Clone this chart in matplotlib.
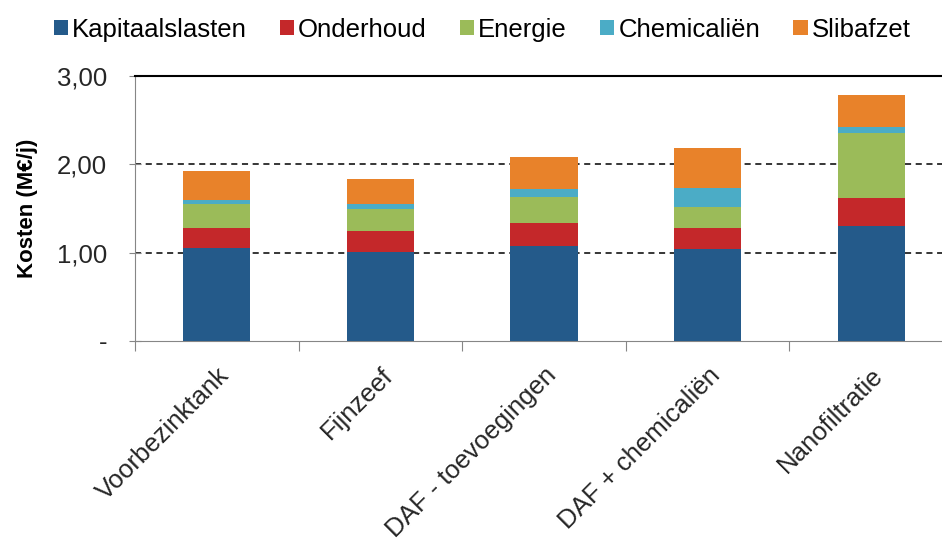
import matplotlib
matplotlib.use("Agg")
import matplotlib.pyplot as plt
import numpy as np

plt.rcParams['font.family'] = ['Liberation Sans', 'DejaVu Sans']

# Jaarlijkse kosten per zuiveringsoptie (M€/j)
categories = ["Voorbezinktank", "Fijnzeef", "DAF - toevoegingen",
              "DAF + chemicaliën", "Nanofiltratie"]
components = ["Kapitaalslasten", "Onderhoud", "Energie", "Chemicaliën", "Slibafzet"]
kapitaalslasten = [1.05, 1.01, 1.08, 1.04, 1.30]
onderhoud = [0.23, 0.23, 0.26, 0.24, 0.32]
energie = [0.27, 0.26, 0.29, 0.24, 0.74]
chemicalien = [0.05, 0.05, 0.09, 0.21, 0.06]
slibafzet = [0.33, 0.28, 0.36, 0.45, 0.37]
yticks = [0, 1, 2, 3]
yticklabels = ["-", "1,00", "2,00", "3,00"]

colors = ["#245A8A", "#C4282A", "#9BBB59", "#4BACC6", "#E8822A"]
series = [kapitaalslasten, onderhoud, energie, chemicalien, slibafzet]

fig = plt.figure(figsize=(9.42, 5.40), dpi=100)
ax = fig.add_axes([135/942, 1 - 341/540, 818/942, 265/540])

x = np.arange(len(categories))
bottom = np.zeros(len(categories))
for name, vals, col in zip(components, series, colors):
    ax.bar(x, vals, width=0.41, bottom=bottom, color=col, label=name, zorder=3)
    bottom += np.array(vals)

ax.set_xlim(-0.5, len(categories) - 0.5)
ax.set_ylim(0, 3)

# gestreepte hulplijnen
for y in [1, 2]:
    ax.axhline(y, color="black", linestyle=(0, (4, 3)), linewidth=1.1, zorder=1)

ax.set_yticks(yticks)
ax.set_yticklabels(yticklabels, fontsize=18.5, color="#262626")
ax.tick_params(axis="y", direction="inout", length=8, color="#868686", pad=16)

# tick marks between the categories, labels at the centres
ax.set_xticks(np.arange(len(categories) + 1) - 0.5)
ax.set_xticklabels([])
ax.tick_params(axis="x", which="major", direction="out", length=7, color="#868686")
ax.set_xticks(x, minor=True)
ax.set_xticklabels(categories, minor=True, rotation=45, ha="right",
                   rotation_mode="anchor", fontsize=18.5, color="#262626")
ax.tick_params(axis="x", which="minor", length=0, pad=16)

for side in ["left", "bottom"]:
    ax.spines[side].set_color("#868686")
ax.spines["right"].set_visible(False)
ax.spines["top"].set_color("black")
ax.spines["top"].set_linewidth(1.5)

ax.set_ylabel("Kosten (M€/j)", fontsize=16, fontweight="bold")
ax.yaxis.set_label_coords(-0.118, 0.5)

fig.legend(loc="upper center", bbox_to_anchor=(482/942, 1.01), ncol=5,
           frameon=False, fontsize=18.5, handlelength=0.55, handleheight=0.55,
           handletextpad=0.15, columnspacing=1.3)

fig.savefig("out.png", dpi=100)
